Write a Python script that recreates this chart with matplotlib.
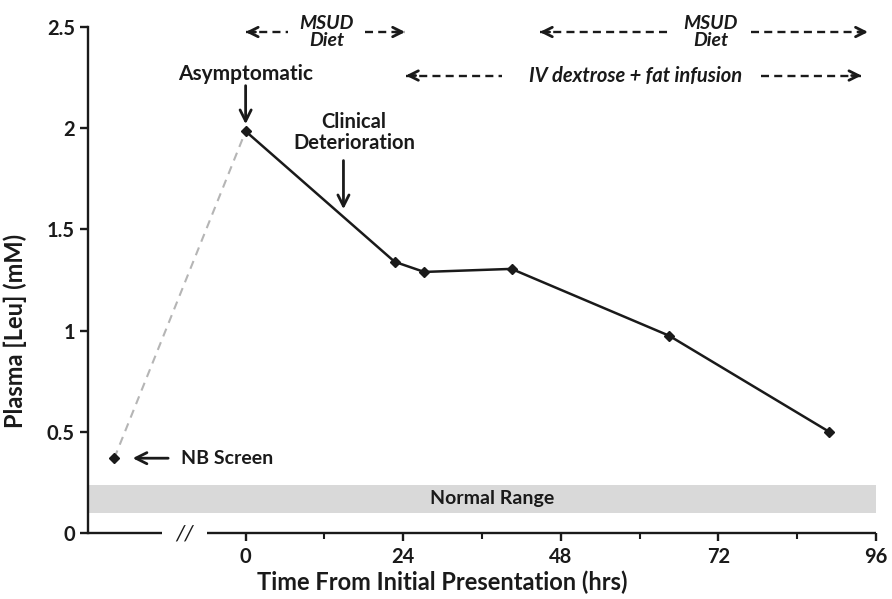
# -*- coding: utf-8 -*-

import matplotlib
matplotlib.use('Agg')
import matplotlib.pyplot as plt

# data
nb_hours = [-20.0, 0.0]
nb_leu = [0.37, 1.985]

hours = [0.0, 22.7, 27.2, 40.5, 64.5, 88.9]
leu = [1.985, 1.34, 1.29, 1.305, 0.975, 0.50]

normal_range = (0.1, 0.24)
xticks = [0, 24, 48, 72, 96]
xminor = [12, 36, 60, 84]
yticks = [0, 0.5, 1, 1.5, 2, 2.5]
ytick_labels = ['0', '0.5', '1', '1.5', '2', '2.5']

XLIM = (-24, 96)
BREAK = (-12.8, -5.9)

plt.rcParams['font.family'] = ['Lato', 'DejaVu Sans']
INK = '#1a1a1a'


def dashed_arrow(ax, x0, x1, y, head_at):
    # dashed shaft plus solid head
    ax.plot([x0, x1], [y, y], ls=(0, (3.4, 2.2)), color=INK, lw=1.7,
            clip_on=False)
    tail = head_at + (1.5 if head_at < (x0 + x1) / 2 else -1.5)
    ax.annotate('', xy=(head_at, y), xytext=(tail, y),
                arrowprops=dict(arrowstyle='->', lw=2.0, color=INK,
                                mutation_scale=17, shrinkA=0, shrinkB=0),
                annotation_clip=False)


def down_arrow(ax, x, y0, y1):
    ax.annotate('', xy=(x, y1), xytext=(x, y0),
                arrowprops=dict(arrowstyle='->', lw=2.0, color=INK,
                                mutation_scale=20, shrinkA=0, shrinkB=0),
                annotation_clip=False)


fig = plt.figure(figsize=(8.92, 5.99), dpi=100)
ax = fig.add_axes([0.0987, 0.110, 0.8833, 0.845])

ax.axhspan(*normal_range, color='#d9d9d9', lw=0, zorder=0)
ax.text(37.5, sum(normal_range) / 2, 'Normal Range', ha='center',
        va='center', fontsize=14, fontweight='bold', color=INK)

ax.plot(nb_hours, nb_leu, ls=(0, (4, 3)), color='#b5b5b5', lw=1.5, zorder=2)
ax.plot(hours, leu, color=INK, lw=1.8, marker='D', ms=5, zorder=3)
ax.plot(nb_hours[:1], nb_leu[:1], ls='none', color=INK, marker='D', ms=5,
        zorder=3)

# annotations
ax.text(0, 2.27, 'Asymptomatic', ha='center', va='center', fontsize=15,
        fontweight='bold', color=INK)
down_arrow(ax, 0, 2.21, 2.02)

ax.text(16.5, 1.98, 'Clinical\nDeterioration', ha='center', va='center',
        fontsize=14.5, fontweight='bold', color=INK, linespacing=1.05)
down_arrow(ax, 14.9, 1.84, 1.6)

ax.text(-9.8, 0.37, 'NB Screen', ha='left', va='center', fontsize=14,
        fontweight='bold', color=INK)
ax.annotate('', xy=(-17.2, 0.37), xytext=(-11.8, 0.37),
            arrowprops=dict(arrowstyle='->', lw=2.0, color=INK,
                            mutation_scale=20, shrinkA=0, shrinkB=0))

# treatment bars
ax.text(12.3, 2.475, 'MSUD\nDiet', ha='center', va='center', fontsize=14,
        fontweight='bold', fontstyle='italic', color=INK, linespacing=1.0)
dashed_arrow(ax, 0, 6.5, 2.475, 0)
dashed_arrow(ax, 18.2, 24.3, 2.475, 24.3)

ax.text(70.8, 2.475, 'MSUD\nDiet', ha='center', va='center', fontsize=14,
        fontweight='bold', fontstyle='italic', color=INK, linespacing=1.0)
dashed_arrow(ax, 44.8, 65.0, 2.475, 44.8)
dashed_arrow(ax, 76.9, 94.8, 2.475, 94.8)

ax.text(59.4, 2.26, 'IV dextrose + fat infusion', ha='center', va='center',
        fontsize=14.5, fontweight='bold', fontstyle='italic', color=INK)
dashed_arrow(ax, 24.4, 39.0, 2.26, 24.4)
dashed_arrow(ax, 78.5, 93.8, 2.26, 93.8)

# axes
ax.set_xlim(*XLIM)
ax.set_ylim(0, 2.5)
ax.set_xticks(xticks)
ax.set_xticks(xminor, minor=True)
ax.set_yticks(yticks)
ax.set_yticklabels(ytick_labels)

for s in ['top', 'right', 'bottom']:
    ax.spines[s].set_visible(False)
ax.spines['left'].set_linewidth(1.7)
ax.spines['left'].set_color(INK)

# broken x axis
ax.plot([XLIM[0], BREAK[0]], [0, 0], color=INK, lw=1.7, clip_on=False,
        solid_capstyle='butt')
ax.plot([BREAK[1], XLIM[1]], [0, 0], color=INK, lw=1.7, clip_on=False,
        solid_capstyle='butt')
ax.text(sum(BREAK) / 2, 0, '//', ha='center', va='center', fontsize=16,
        color=INK, fontstyle='italic')

ax.tick_params(axis='both', which='major', direction='out', length=6,
               width=1.7, color=INK, labelsize=14.5, labelcolor=INK)
ax.tick_params(axis='x', which='minor', direction='out', length=4,
               width=1.5, color=INK)
ax.tick_params(axis='x', which='major', pad=4)
for lab in ax.get_xticklabels() + ax.get_yticklabels():
    lab.set_fontweight('bold')

ax.set_xlabel('Time From Initial Presentation (hrs)', fontsize=17,
              fontweight='bold', color=INK)
ax.set_ylabel('Plasma [Leu] (mM)', fontsize=17, fontweight='bold',
              color=INK)
ax.xaxis.set_label_coords(0.45, -0.074)
ax.yaxis.set_label_coords(-0.077, 0.4)

fig.savefig('out.png', dpi=100)
